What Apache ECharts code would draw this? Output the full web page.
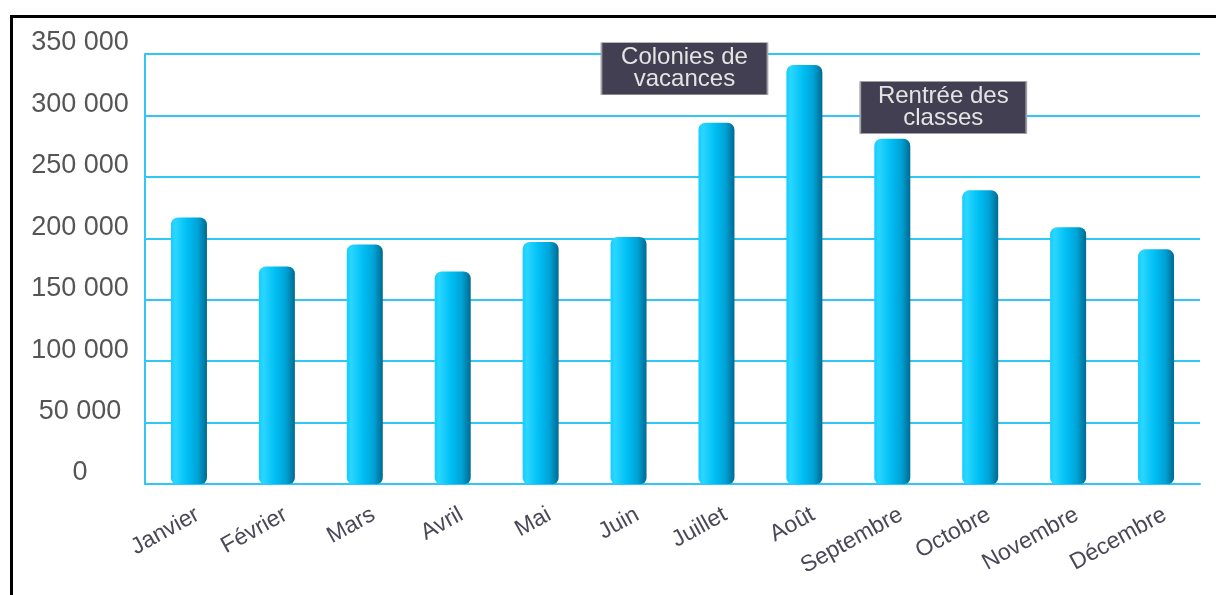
<!DOCTYPE html>
<html>
<head>
<meta charset="utf-8">
<script src="https://cdn.jsdelivr.net/npm/echarts@6/dist/echarts.min.js"></script>
<style>
  html, body { margin: 0; padding: 0; background: #fff; }
  #chart { width: 1216px; height: 595px; }
</style>
</head>
<body>
<div id="chart"></div>
<script>
// ------------------ data ------------------
let months = ['Janvier', 'Février', 'Mars', 'Avril', 'Mai', 'Juin', 'Juillet', 'Août', 'Septembre', 'Octobre', 'Novembre', 'Décembre'];
let values = [217000, 177000, 195000, 173000, 197000, 201000, 294000, 341000, 281000, 239000, 209000, 191000];
let notes = [
    {text: 'Colonies de\nvacances', month: 'Juillet', y: 338000, dx: -32},
    {text: 'Rentrée des\nclasses', month: 'Septembre', y: 306500, dx: 51}
];

const FONT = '"Liberation Sans", Arial, sans-serif';
const CYAN = '#2fc8f5';

function fmt(v) {
    // 350000 -> "350 000"
    return String(v).replace(/\B(?=(\d{3})+(?!\d))/g, ' ');
}

let myChart = echarts.init(document.getElementById('chart'));

let option = {
    animation: false,
    backgroundColor: '#fff',
    grid: {left: 145, right: 16, top: 54, bottom: 111},
    graphic: [{
        type: 'rect',
        left: 9, top: 14,
        shape: {width: 1260, height: 640},
        style: {fill: 'none', stroke: '#000', lineWidth: 3},
        silent: true
    }],
    xAxis: {
        type: 'category',
        data: months,
        axisLine: {lineStyle: {color: CYAN, width: 2}},
        axisTick: {show: false},
        axisLabel: {
            rotate: 29,
            margin: 34,
            padding: [0, -10, 0, 0],
            fontSize: 23,
            color: '#4a4858',
            fontFamily: FONT,
            interval: 0
        }
    },
    yAxis: {
        type: 'value',
        min: 0,
        max: 350000,
        interval: 50000,
        axisLine: {show: true, lineStyle: {color: CYAN, width: 2}},
        axisTick: {show: false},
        splitLine: {lineStyle: {color: CYAN, width: 2}},
        axisLabel: {
            formatter: fmt,
            align: 'center',
            verticalAlign: 'bottom',
            lineHeight: 22,
            margin: 65,
            fontSize: 27,
            color: '#555',
            fontFamily: FONT
        }
    },
    series: [{
        type: 'bar',
        data: values,
        barWidth: 36,
        itemStyle: {
            borderRadius: [7, 7, 6, 6],
            color: new echarts.graphic.LinearGradient(0, 0, 1, 0, [
                {offset: 0, color: '#14cdfd'},
                {offset: 0.12, color: '#2ad6ff'},
                {offset: 0.45, color: '#00bff4'},
                {offset: 0.75, color: '#00a2d6'},
                {offset: 1, color: '#006a90'}
            ])
        },
        markPoint: {
            symbol: 'rect',
            symbolSize: [166, 52],
            itemStyle: {color: '#433f52', borderColor: '#a0a0a8', borderWidth: 1},
            label: {
                show: true,
                color: '#e4e4e4',
                fontSize: 24,
                lineHeight: 22,
                fontFamily: FONT
            },
            data: notes.map(function (n) {
                return {
                    coord: [n.month, n.y],
                    symbolOffset: [n.dx, 0],
                    label: {formatter: n.text}
                };
            })
        }
    }]
};

myChart.setOption(option);
</script>
</body>
</html>
